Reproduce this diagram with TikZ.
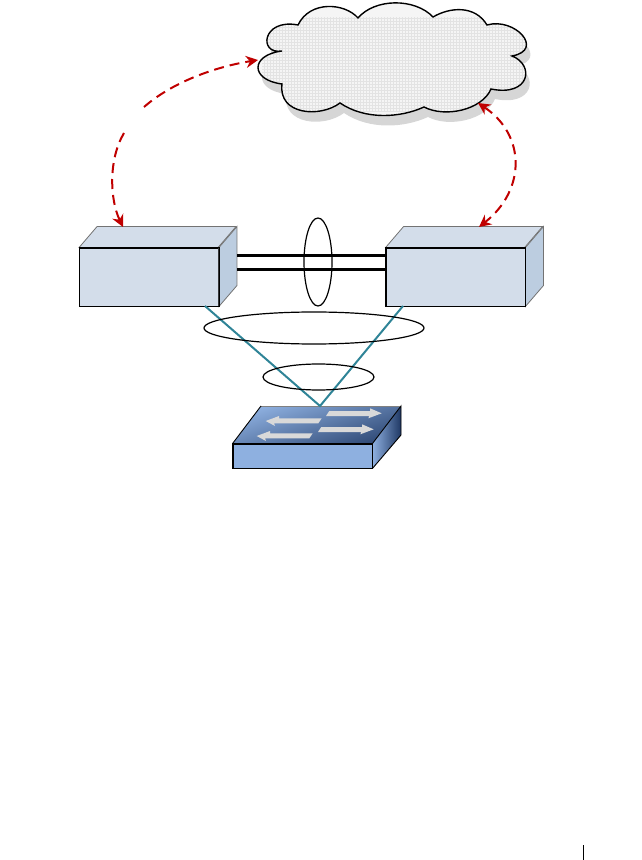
\documentclass[tikz,border=0pt]{standalone}
\usetikzlibrary{arrows.meta, shapes.geometric}

\definecolor{boxface}{HTML}{D3DDEA}
\definecolor{boxside}{HTML}{BCCDE0}
\definecolor{swlight}{HTML}{8EB0E0}
\definecolor{swdark}{HTML}{1F3864}
\definecolor{linkteal}{HTML}{2F8497}
\definecolor{mgmtred}{HTML}{C00000}

\newcommand{\cloudpath}{(282,51)
    .. controls (258,55) and (262,18) .. (298,25)
    .. controls (310,0) and (345,3) .. (358,18)
    .. controls (375,-2) and (415,-2) .. (433,17)
    .. controls (450,7) and (475,5) .. (487,25)
    .. controls (515,17) and (545,50) .. (512,56)
    .. controls (535,65) and (530,97) .. (491,89)
    .. controls (482,110) and (445,118) .. (424,107)
    .. controls (400,118) and (365,120) .. (340,103)
    .. controls (320,118) and (278,115) .. (282,84)
    .. controls (250,80) and (250,55) .. (282,51) -- cycle}

\begin{document}
\begin{tikzpicture}[
        x=0.5pt, y=-0.5pt,
        frontbox/.style={rectangle, draw=black, fill=boxface, line width=0.45pt,
                         minimum width=69.5pt, minimum height=29pt, inner sep=0pt},
        swfront/.style={rectangle, draw=black, fill=swlight, line width=0.45pt,
                        minimum width=69.5pt, minimum height=12pt, inner sep=0pt},
        ring/.style={ellipse, draw=black, line width=0.6pt, inner sep=0pt},
        trunk/.style={line width=1.5pt, black},
        uplink/.style={line width=1pt, linkteal},
        mgmt/.style={line width=1pt, mgmtred, dash pattern=on 5pt off 3pt},
        swarrow/.style={fill=black!15},
        >={Stealth[length=6pt, width=6pt]}
    ]
        \useasboundingbox (0,0) rectangle (641,860);

        % cloud
        \fill[black!16] [shift={(4,10)}] \cloudpath;
        \fill[black!4] \cloudpath;
        \begin{scope}
            \clip \cloudpath;
            \draw[black!11, line width=0.25pt, step=1.5pt] (262,17) grid (525,112);
        \end{scope}
        \draw[black, line width=0.7pt] \cloudpath;

        % stacking pair
        \node[frontbox] (lbox) at (149,277) {};
        \node[frontbox] (rbox) at (455.5,277) {};
        \foreach \b in {lbox, rbox} {
            \filldraw[fill=boxface, draw=black!55, line width=0.4pt]
                (\b.north west) -- ++(18,-21) -- ++(139,0) -- ++(-18,21) -- cycle;
            \filldraw[fill=boxside, draw=black!55, line width=0.4pt]
                (\b.north east) -- ++(18,-21) -- ++(0,59) -- (\b.south east) -- cycle;
            \draw[black, line width=0.45pt] (\b.north west) rectangle (\b.south east);
        }

        \coordinate (lport1) at (237,256);
        \coordinate (lport2) at (237,270);
        \coordinate (rport1) at (386,256);
        \coordinate (rport2) at (386,270);
        \draw[trunk] (lport1) -- (rport1);
        \draw[trunk] (lport2) -- (rport2);
        \node[ring, minimum width=14pt, minimum height=44pt] (trunkring) at (318,262) {};

        % access switch
        \node[swfront] (switch) at (302.5,456) {};
        \shade[top color=swlight, middle color=swlight!92!swdark, bottom color=swdark!85!swlight,
               shading angle=18]
            (switch.north west) -- (261,406) -- (401,406) -- (switch.north east) -- cycle;
        \shade[left color=swlight, right color=swdark]
            (switch.north east) -- (401,406) -- (401,435) -- (switch.south east) -- cycle;
        \draw[black!50, line width=0.4pt] (261,406) -- (401,406);
        \draw[black, line width=0.45pt] (switch.north west) -- (261,406);
        \draw[black, line width=0.45pt] (switch.north east) -- (401,406) -- (401,435)
            -- (switch.south east);
        \draw[black, line width=0.45pt] (switch.north west) rectangle (switch.south east);

        \foreach \dx/\dy in {0/0, -9/15} {
            \fill[swarrow] [shift={(\dx,\dy)}]
                (265.7,421) -- (279,416) -- (279,418.3) -- (321.7,418.3)
                -- (318.3,423.3) -- (274,423.3) -- (275,426) -- cycle;
        }
        \foreach \dx/\dy in {0/0, -8/16} {
            \fill[swarrow] [shift={(\dx,\dy)}]
                (329.3,411) -- (370,411) -- (370,408.3) -- (381.7,413.3)
                -- (368.3,418.3) -- (369.3,416) -- (326,416) -- cycle;
        }

        % uplinks
        \coordinate (swtop) at (320,406);
        \coordinate (lfoot) at (205,306);
        \coordinate (rfoot) at (403,306);
        \draw[uplink] (lfoot) -- (swtop) -- (rfoot);
        \node[ring, minimum width=110pt, minimum height=16pt] (outerring) at (314,328) {};
        \node[ring, minimum width=55.5pt, minimum height=13pt] (innerring) at (318.5,377) {};

        % red dashed arrows
        \coordinate (cloudw) at (258,60);
        \coordinate (clouds) at (478,103);
        \coordinate (ltop) at (123,227);
        \coordinate (rtop) at (479,227);
        \coordinate (gapa) at (144,107);
        \coordinate (gapb) at (124,133);
        \draw[mgmt, ->] (gapa) .. controls (175,80) and (220,66) .. (cloudw);
        \draw[mgmt, ->] (gapb) .. controls (108,160) and (110,200) .. (ltop);
        \draw[mgmt, <->] (clouds) .. controls (526,135) and (526,190) .. (rtop);

        % page rule
        \draw[black, line width=0.5pt] (583,845) -- (583,860);
    \end{tikzpicture}
\end{document}
